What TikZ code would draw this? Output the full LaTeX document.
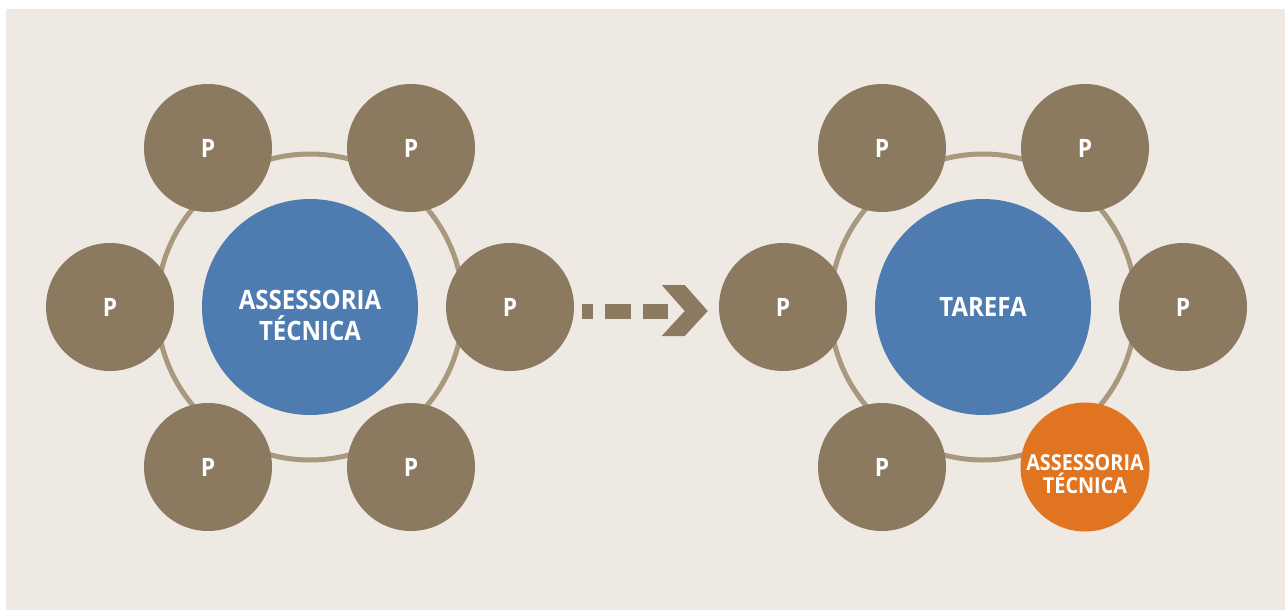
\documentclass[tikz,border=0pt]{standalone}
\usepackage{fontspec}
\usetikzlibrary{calc}
\newfontfamily\lblfont[FakeStretch=0.9]{Open Sans}
\definecolor{paper}{HTML}{EEE9E3}
\definecolor{pbrown}{HTML}{8B7A5F}
\definecolor{ringbrown}{HTML}{A8987E}
\definecolor{hubblue}{HTML}{4E7CB1}
\definecolor{helporange}{HTML}{E07420}
\tikzset{
  pnode/.style={circle,fill=pbrown,minimum size=96pt,inner sep=0pt,
    text=white,font=\lblfont\bfseries\fontsize{19}{21}\selectfont},
  hub/.style={circle,fill=hubblue,minimum size=162pt,inner sep=0pt,
    text=white,align=center,font=\lblfont\bfseries\fontsize{20}{23.25}\selectfont},
  helper/.style={circle,fill=helporange,minimum size=96pt,inner sep=0pt,
    text=white,align=center,font=\lblfont\bfseries\fontsize{16.5}{17.25}\selectfont},
  ring/.style={draw=ringbrown,line width=3.75pt},
  flow/.style={draw=pbrown,line width=11.25pt,dash pattern=on 19.5pt off 9pt,dash phase=11.25pt}
}
\begin{document}
\begin{tikzpicture}[x=0.75pt,y=-0.75pt]
\useasboundingbox (0,0) rectangle (1285,610);
\fill[white] (0,0) rectangle (1285,610);
\fill[paper] (6,9) rectangle (1285,610);
% before
\draw[ring] (310,307) circle[radius=153];
\node[hub,text height=51pt] (lhub) at (310,307) {ASSESSORIA\\TÉCNICA};
\node[pnode] (ltl) at (208,148) {P};
\node[pnode] (ltr) at (411,148) {P};
\node[pnode] (lleft) at (110,307) {P};
\node[pnode] (lright) at (510,307) {P};
\node[pnode] (lbl) at (208,467) {P};
\node[pnode] (lbr) at (411,467) {P};
% after
\draw[ring] (983,307) circle[radius=153];
\node[hub] (rhub) at (983,307) {TAREFA};
\node[pnode] (rtl) at (882,148) {P};
\node[pnode] (rtr) at (1085,148) {P};
\node[pnode] (rleft) at (783,307) {P};
\node[pnode] (rright) at (1183,307) {P};
\node[pnode] (rbl) at (882,467) {P};
\node[helper,text height=40pt] (rassess) at (1085,467) {ASSESSORIA\\TÉCNICA};
% arrow
\draw[flow] ($(lright.east)+(8,4)$) -- ($(rleft.west)+(-51,4)$);
\coordinate (tip) at ($(rleft.west)+(-11,4)$);
\fill[pbrown] ($(tip)+(-46,-26)$) -- ($(tip)+(-23,-26)$) -- (tip)
  -- ($(tip)+(-23,25)$) -- ($(tip)+(-46,25)$) -- ($(tip)+(-23,0)$) -- cycle;
\end{tikzpicture}
\end{document}
